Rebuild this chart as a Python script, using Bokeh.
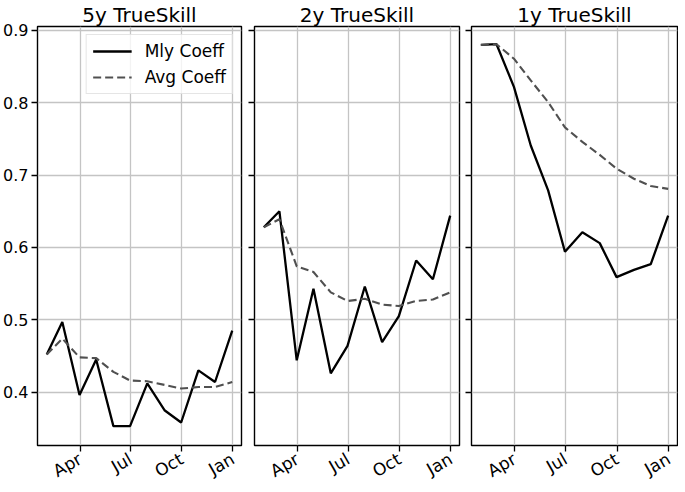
import math
from datetime import datetime
from bokeh.plotting import figure
from bokeh.layouts import row
from bokeh.models import (FixedTicker, DatetimeTickFormatter, Range1d, Legend, LegendItem)
from bokeh.embed import file_html
from bokeh.resources import INLINE

# ---- data ----
dates = [datetime(2017, 1, 31), datetime(2017, 2, 28), datetime(2017, 3, 31), datetime(2017, 4, 30),
         datetime(2017, 5, 31), datetime(2017, 6, 30), datetime(2017, 7, 31), datetime(2017, 8, 31),
         datetime(2017, 9, 30), datetime(2017, 10, 31), datetime(2017, 11, 30), datetime(2017, 12, 31)]

titles = ["5y TrueSkill", "2y TrueSkill", "1y TrueSkill"]

mly_5y = [0.452, 0.497, 0.396, 0.445, 0.353, 0.353, 0.412, 0.375, 0.358, 0.430, 0.414, 0.485]
avg_5y = [0.452, 0.474, 0.448, 0.447, 0.428, 0.416, 0.415, 0.410, 0.405, 0.407, 0.407, 0.414]
mly_2y = [0.628, 0.650, 0.444, 0.543, 0.426, 0.464, 0.546, 0.469, 0.505, 0.582, 0.556, 0.644]
avg_2y = [0.628, 0.639, 0.574, 0.566, 0.538, 0.526, 0.529, 0.521, 0.519, 0.526, 0.528, 0.538]
mly_1y = [0.880, 0.881, 0.822, 0.741, 0.679, 0.594, 0.621, 0.606, 0.559, 0.569, 0.577, 0.644]
avg_1y = [0.880, 0.881, 0.861, 0.831, 0.801, 0.766, 0.746, 0.728, 0.709, 0.695, 0.685, 0.681]

legend_labels = ["Mly Coeff", "Avg Coeff"]

x_tick_dates = [datetime(2017, 4, 1), datetime(2017, 7, 1), datetime(2017, 10, 1), datetime(2018, 1, 1)]
y_ticks = [0.4, 0.5, 0.6, 0.7, 0.8, 0.9]
y_tick_labels = ["0.4", "0.5", "0.6", "0.7", "0.8", "0.9"]

x_start = datetime(2017, 1, 14, 8)
x_end = datetime(2018, 1, 16, 16)
y_start, y_end = 0.3262, 0.9055

FONT = "DejaVu Sans"


def ms(d):
    return (d - datetime(1970, 1, 1)).total_seconds() * 1000.0


y_range = Range1d(y_start, y_end)


def make_panel(title, mly, avg, idx):
    first = idx == 0
    borders = [(35, 7, 204), (6, 6, 205), (6, 1, 206)][idx]
    p = figure(x_axis_type="datetime", output_backend="svg", toolbar_location=None,
               frame_width=borders[2], frame_height=419,
               min_border_left=borders[0], min_border_right=borders[1],
               min_border_top=0, min_border_bottom=0,
               x_range=Range1d(ms(x_start), ms(x_end)), y_range=y_range,
               background_fill_color="white", border_fill_color="white")
    p.title.text = title
    p.title.align = "center"
    p.title.text_font = FONT
    p.title.text_font_size = "20px"
    p.title.text_font_style = "normal"
    p.title.text_color = "black"
    p.title.standoff = 0

    p.outline_line_color = "black"
    p.outline_line_width = 1.4
    p.outline_line_alpha = 1.0

    # x axis
    p.xaxis.ticker = FixedTicker(ticks=[ms(d) for d in x_tick_dates])
    p.xaxis.formatter = DatetimeTickFormatter(days="%b", months="%b", years="%b",
                                              hours="%b", minutes="%b", seconds="%b")
    p.xaxis.major_label_orientation = math.pi / 6
    p.xaxis.major_label_text_font = FONT
    p.xaxis.major_label_text_font_size = "17px"
    p.xaxis.major_label_text_color = "black"
    p.xaxis.major_label_standoff = 6

    # y axis
    p.yaxis.ticker = FixedTicker(ticks=y_ticks)
    if first:
        p.yaxis.major_label_overrides = {t: l for t, l in zip(y_ticks, y_tick_labels)}
        p.yaxis.major_label_text_font = FONT
        p.yaxis.major_label_text_font_size = "16px"
        p.yaxis.major_label_text_color = "black"
        p.yaxis.major_label_standoff = 3
    else:
        p.yaxis.major_label_overrides = {t: "" for t in y_ticks}
        p.yaxis.major_label_text_font_size = "0px"
        p.yaxis.major_label_standoff = 0

    for ax in (p.xaxis, p.yaxis):
        ax.axis_line_color = None
        ax.major_tick_line_color = "black"
        ax.major_tick_line_width = 1.3
        ax.major_tick_out = 6
        ax.major_tick_in = 0
        ax.minor_tick_line_color = None

    p.xgrid.ticker = p.xaxis.ticker
    p.ygrid.ticker = p.yaxis.ticker
    p.grid.grid_line_color = "#c4c4c4"
    p.grid.grid_line_width = 1.3

    r1 = p.line(dates, mly, line_color="black", line_width=2.3)
    r2 = p.line(dates, avg, line_color="#505050", line_width=2.1, line_dash="8 4")

    if first:
        legend = Legend(items=[LegendItem(label=legend_labels[0], renderers=[r1]),
                               LegendItem(label=legend_labels[1], renderers=[r2])],
                        location="top_right")
        legend.label_text_font = FONT
        legend.label_text_font_size = "17px"
        legend.label_text_color = "black"
        legend.glyph_width = 39
        legend.glyph_height = 20
        legend.label_height = 20
        legend.label_standoff = 13
        legend.spacing = 6
        legend.padding = 6
        legend.margin = 8
        legend.border_line_color = "#cccccc"
        legend.border_line_width = 1
        legend.background_fill_color = "white"
        legend.background_fill_alpha = 0.8
        p.add_layout(legend)
    return p


panels = [make_panel(titles[0], mly_5y, avg_5y, 0),
          make_panel(titles[1], mly_2y, avg_2y, 1),
          make_panel(titles[2], mly_1y, avg_1y, 2)]

layout = row(*panels)

open("out.html", "w").write(file_html(layout, INLINE))
